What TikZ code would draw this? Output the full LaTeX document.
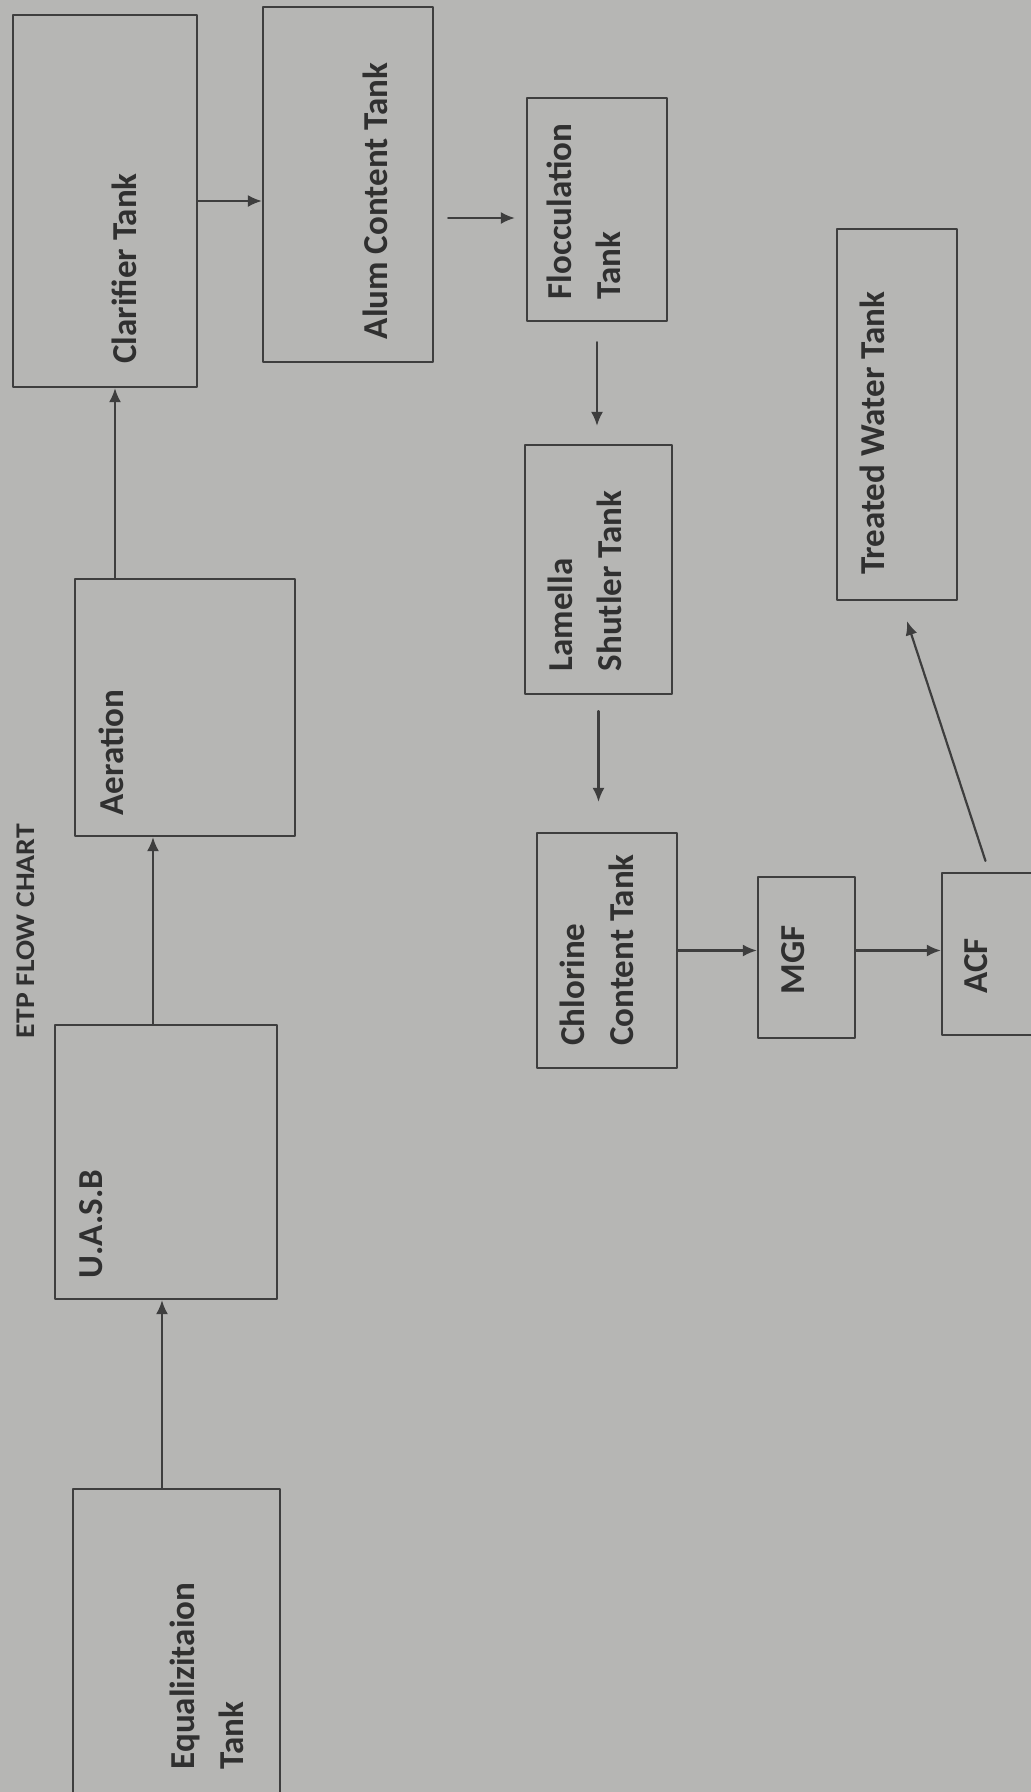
\documentclass[tikz,border=0pt]{standalone}
\usepackage{fontspec}
\setmainfont{Carlito}
\usetikzlibrary{calc,arrows.meta}
\definecolor{paper}{RGB}{182,182,180}
\definecolor{ink}{RGB}{62,62,62}
\definecolor{print}{RGB}{48,48,48}
\tikzstyle{every node}=[font=\bfseries\fontsize{35}{49}\selectfont,text=print]
\tikzstyle{every path}=[line width=2.2pt,line cap=round,line join=round]
\tikzstyle{tank}=[draw=ink,inner sep=0pt]
\tikzstyle{tag}=[rotate=90,align=left,inner sep=0pt]
\tikzstyle{flow}=[draw=ink,-{Latex[length=14pt,width=12pt]}]

\begin{document}
\begin{tikzpicture}[x=1pt,y=-1pt]
    % Sheet
    \fill[paper] (0,0) rectangle (1031,1792);
    \useasboundingbox (0,0) rectangle (1031,1792);

    % Title
    \node [tag,font=\bfseries\fontsize{27}{30}\selectfont,name=title] at (25.5,931) {\scalebox{1.1}[1]{ETP FLOW CHART}};

    % Left column, bottom to top
    \draw (176.5,1650.5) node [tank,minimum width=207pt,minimum height=323pt,name=eq] {}
    (166,1162) node [tank,minimum width=222pt,minimum height=274pt,name=uasb] {}
    (185,707.5) node [tank,minimum width=220pt,minimum height=257pt,name=aer] {}
    (105,201) node [tank,minimum width=184pt,minimum height=372pt,name=clar] {};

    % Second column
    \draw (348,184.5) node [tank,minimum width=170pt,minimum height=355pt,name=alum] {}
    (597,209.5) node [tank,minimum width=140pt,minimum height=223pt,name=floc] {}
    ++(1.5,360) node [tank,minimum width=147pt,minimum height=249pt,name=lam] {}
    (607,950.5) node [tank,minimum width=140pt,minimum height=235pt,name=chl] {};

    % Filters and treated water
    \draw (806.5,957.5) node [tank,minimum width=97pt,minimum height=161pt,name=mgf] {}
    (993.5,954) node [tank,minimum width=103pt,minimum height=162pt,name=acf] {}
    (897,414.5) node [tank,minimum width=120pt,minimum height=371pt,name=treat] {};

    % Box texts
    \node [tag,name=eqT] at (207,1676) {Equalizitaion\\Tank};
    \node [tag,name=uasbT] at (91,1224) {U.A.S.B};
    \node [tag,name=aerT] at (111,752.5) {Aeration};
    \node [tag,name=clarT] at (124.5,268.5) {Clarifier Tank};
    \node [tag,name=alumT] at (375.5,201) {Alum Content Tank};
    \node [tag,name=flocT] at (583.5,211.5) {Flocculation\\Tank};
    \node [tag,name=lamT] at (585,581) {Lamella\\Shutler Tank};
    \node [tag,name=chlT] at (596.5,950) {Chlorine\\Content Tank};
    \node [tag,name=mgfT] at (793,960) {MGF};
    \node [tag,name=acfT] at (976,966) {ACF};
    \node [tag,name=treatT] at (872,433.5) {Treated Water Tank};

    % Flow upwards on the left
    \path (eq.north) ++(-14.5,0) coordinate (eqout)
    (uasb.north) ++(-13,0) coordinate (uasbout)
    (aer.north) ++(-70,0) coordinate (aerout);
    \draw[flow] (eqout) -- (eqout |- uasb.south);
    \draw[flow] (uasbout) -- (uasbout |- aer.south);
    \draw[flow] (aerout) -- (aerout |- clar.south);

    % Flow across and down
    \path (alum.east) ++(14,33.5) coordinate (alumout);
    \draw[flow] (clar.east) -- (clar.east -| alum.west);
    \draw[flow,shorten >=11pt] (alumout) -- (alumout -| floc.west);
    \draw[flow,shorten <=20pt,shorten >=18pt] (floc.south) -- (floc.south |- lam.north);
    \draw[flow,shorten <=16pt,shorten >=30pt] (lam.south) -- (lam.south |- chl.north);
    \draw[flow] (chl.east) -- (chl.east -| mgf.west);
    \draw[flow] (chl.east -| mgf.east) -- (chl.east -| acf.west);

    % ACF to treated water
    \path (acf.north) ++(-8,-11) coordinate (acfout)
    (treat.south) ++(10,20) coordinate (treatin);
    \draw[flow] (acfout) -- (treatin);
\end{tikzpicture}
\end{document}
